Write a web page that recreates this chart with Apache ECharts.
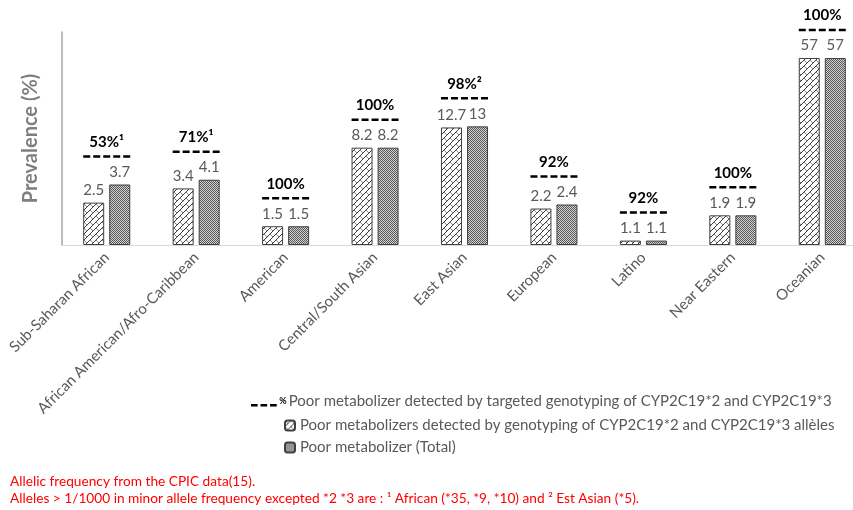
<!DOCTYPE html>
<html><head><meta charset="utf-8">
<script src="https://cdn.jsdelivr.net/npm/echarts@6/dist/echarts.min.js"></script>
<style>html,body{margin:0;padding:0;background:#fff}#c{width:853px;height:510px}</style>
</head><body><div id="c"></div>
<script>
var categories = ['Sub-Saharan African','African American/Afro-Caribbean','American','Central/South Asian','East Asian','European','Latino','Near Eastern','Oceanian'];
var detectedValues = [2.5, 3.4, 1.5, 8.2, 12.7, 2.2, 1.1, 1.9, 57];
var totalValues = [3.7, 4.1, 1.5, 8.2, 13, 2.4, 1.1, 1.9, 57];
var targetedPct = ['53%¹','71%¹','100%','100%','98%²','92%','92%','100%','100%'];
var seriesNames = ['Poor metabolizer detected by targeted genotyping of CYP2C19*2 and CYP2C19*3','Poor metabolizers detected by genotyping of CYP2C19*2 and CYP2C19*3 allèles','Poor metabolizer (Total)'];
var notes = ['Allelic frequency from the CPIC data(15).','Alleles > 1/1000 in minor allele frequency excepted *2 *3 are : ¹ African (*35, *9, *10) and ² Est Asian (*5).'];

var FONT = 'Lato';

function makeHatch(){
  var c = document.createElement('canvas'); c.width = 6; c.height = 6;
  var g = c.getContext('2d');
  g.fillStyle = '#ffffff'; g.fillRect(0,0,6,6);
  g.strokeStyle = '#3a3a3a'; g.lineWidth = 1;
  g.beginPath(); g.moveTo(-1,7); g.lineTo(7,-1); g.stroke();
  g.strokeStyle = '#8a8a8a';
  g.beginPath(); g.moveTo(0,0); g.lineTo(3,3); g.stroke();
  return c;
}
function makeDots(){
  var c = document.createElement('canvas'); c.width = 2; c.height = 2;
  var g = c.getContext('2d');
  g.fillStyle = '#d0d0d0'; g.fillRect(0,0,2,2);
  g.fillStyle = '#5a5a5a'; g.fillRect(0,0,1,1); g.fillRect(1,1,1,1);
  return c;
}

var groupMax = detectedValues.map(function(v,i){ return [i, Math.max(v, totalValues[i])]; });

var chart = echarts.init(document.getElementById('c'));
chart.setOption({
  animation: false,
  textStyle: { fontFamily: FONT },
  grid: { left: 62, width: 805, top: 32, height: 213, containLabel: false, outerBoundsMode: 'none' },
  xAxis: {
    type: 'category', data: categories,
    axisLine: { lineStyle: { color: '#d9d9d9', width: 1 } },
    axisTick: { show: false },
    axisLabel: { rotate: 45, fontSize: 15, color: '#595959', margin: 10, interval: 0, fontFamily: FONT }
  },
  yAxis: {
    type: 'log', logBase: 10, min: 1, max: 100,
    name: 'Prevalence (%)', nameLocation: 'middle', nameGap: 21,
    nameTextStyle: { fontSize: 20, fontWeight: 'bold', color: '#7f7f7f', fontFamily: FONT },
    axisLine: { show: true, lineStyle: { color: '#a6a6a6', width: 1.5 } },
    axisTick: { show: false }, axisLabel: { show: false }, splitLine: { show: false }
  },
  legend: [
    { data: [{ name: seriesNames[0], icon: 'path://M0,0h0.01v0.01h-0.01z M0,8h7v2.5h-7z M10,8h7v2.5h-7z M20,8h7v2.5h-7z' }],
      left: 246, top: 389, itemWidth: 27, itemHeight: 10, itemGap: 0,
      formatter: function(n){ return '{p|%}' + n; },
      textStyle: { fontSize: 15, color: '#595959', fontFamily: FONT, padding: [0,0,0,-3],
        rich: { p: { fontSize: 9, fontWeight: 'bold', color: '#000', fontFamily: FONT, padding: [0,2,0,0] } } } },
    { data: [seriesNames[1], seriesNames[2]], orient: 'vertical',
      left: 279, top: 413, itemWidth: 10, itemHeight: 10, itemGap: 7,
      textStyle: { fontSize: 15, color: '#595959', fontFamily: FONT } }
  ],
  series: [
    {
      name: seriesNames[0], type: 'custom', data: groupMax,
      itemStyle: { color: '#000' },
      renderItem: function(params, api){
        var p = api.coord([api.value(0), api.value(1)]);
        var y = p[1] - 28;
        return { type: 'group', children: [
          { type: 'line', shape: { x1: p[0]-23.5, y1: y, x2: p[0]+23.5, y2: y },
            style: { stroke: '#000', lineWidth: 2.5, lineDash: [7,3] } },
          { type: 'text', style: { text: targetedPct[params.dataIndex], x: p[0], y: y - 7,
            align: 'center', verticalAlign: 'bottom', font: 'bold 15px ' + FONT, fill: '#000' } }
        ]};
      }
    },
    {
      name: seriesNames[1], type: 'bar', data: detectedValues, barWidth: 21, barGap: '24%',
      itemStyle: { color: { image: makeHatch(), repeat: 'repeat' }, borderColor: '#404040', borderWidth: 1 },
      label: { show: true, position: 'top', distance: 5, fontSize: 15, color: '#595959', fontFamily: FONT }
    },
    {
      name: seriesNames[2], type: 'bar', data: totalValues, barWidth: 21,
      itemStyle: { color: { image: makeDots(), repeat: 'repeat' }, borderColor: '#404040', borderWidth: 1 },
      label: { show: true, position: 'top', distance: 5, fontSize: 15, color: '#595959', fontFamily: FONT }
    }
  ],
  graphic: [
    { type: 'text', left: 10, top: 475, style: { text: notes[0], fill: '#ff0000', font: '13.7px ' + FONT } },
    { type: 'text', left: 10, top: 492, style: { text: notes[1], fill: '#ff0000', font: '13.7px ' + FONT } }
  ]
});
</script></body></html>
